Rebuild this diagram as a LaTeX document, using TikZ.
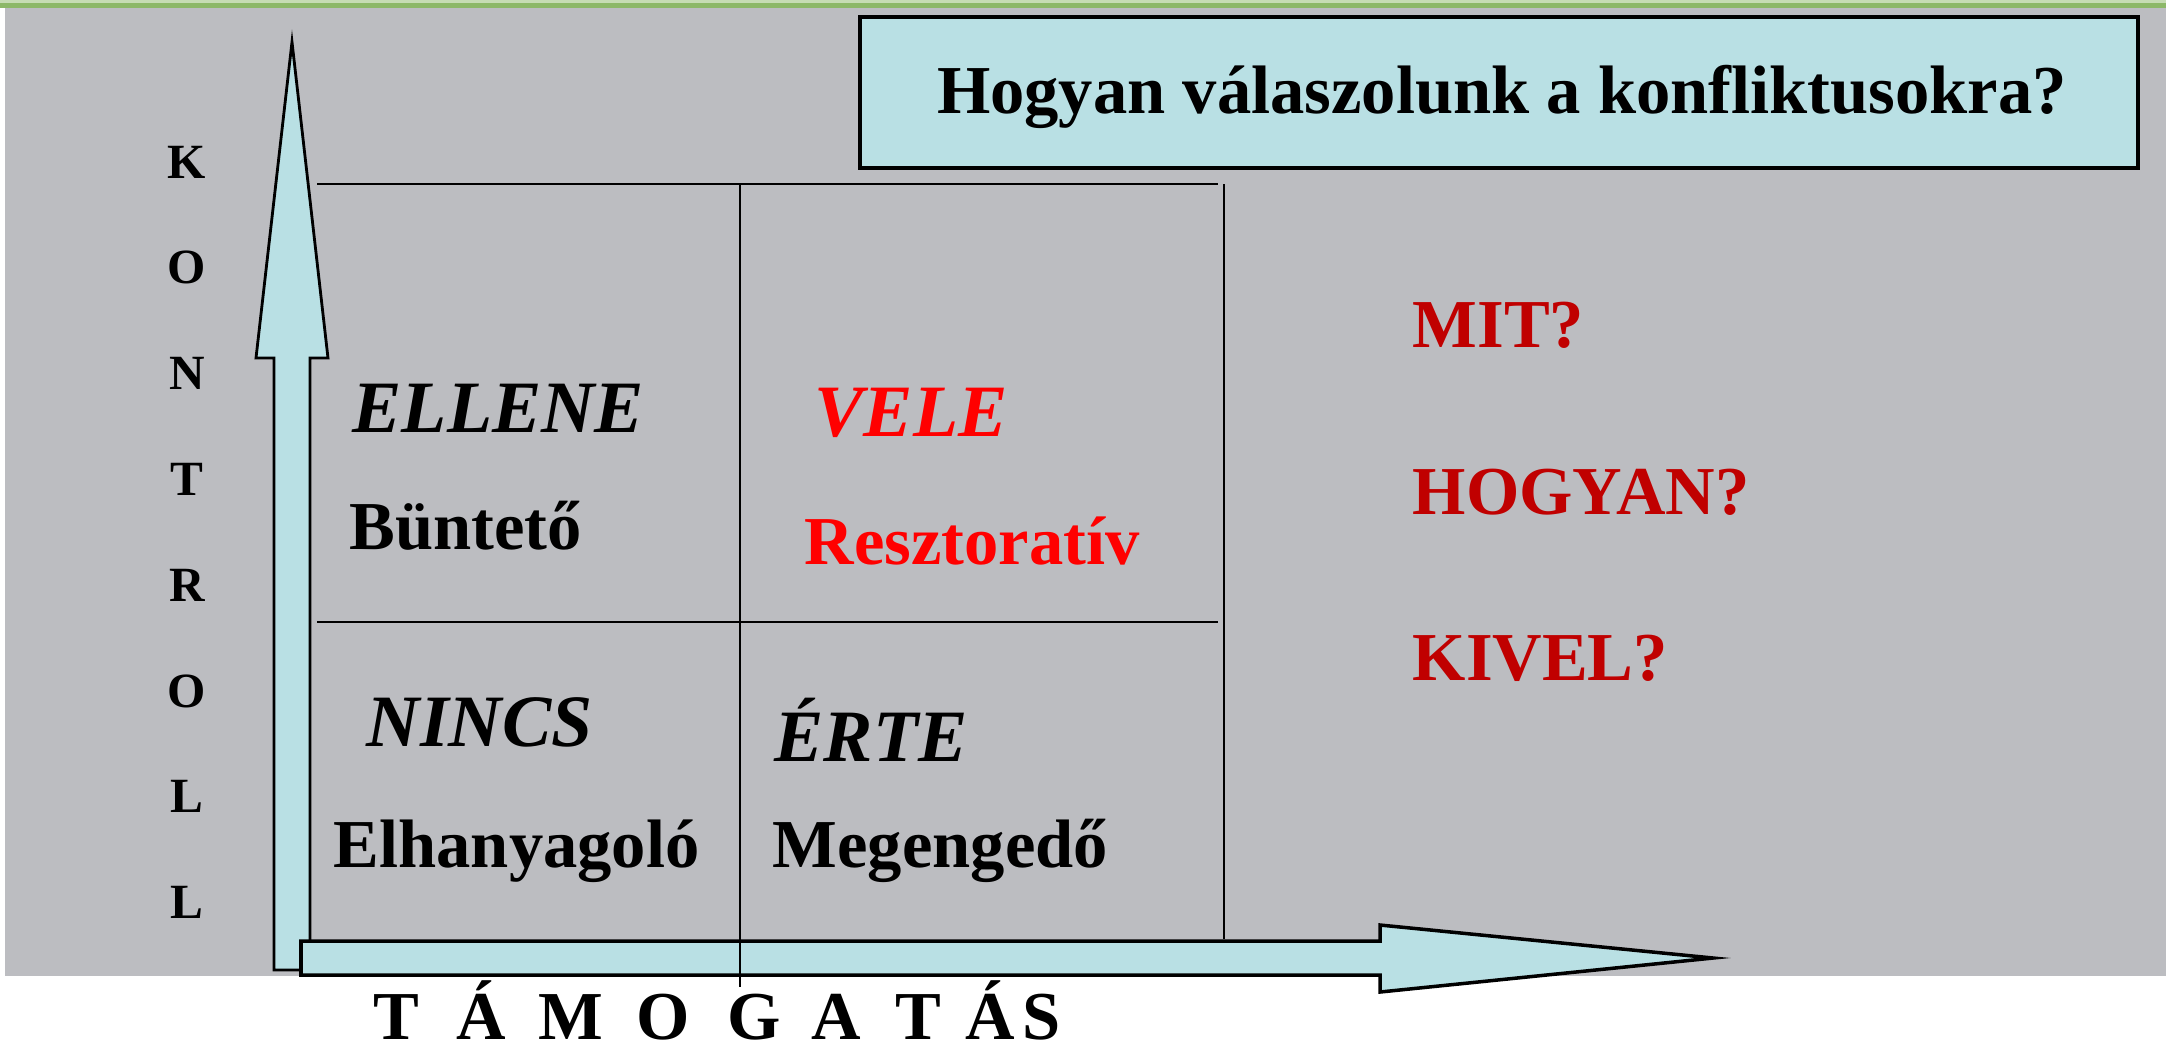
\documentclass[tikz,border=0pt]{standalone}
\usepackage{fontspec}
\setmainfont{Liberation Serif}
\usetikzlibrary{positioning}
\definecolor{slidegray}{RGB}{188, 189, 193}
\definecolor{slidegreen}{RGB}{140, 184, 104}
\definecolor{arrowcyan}{RGB}{185, 224, 228}
\definecolor{darkred}{RGB}{192, 0, 0}

\begin{document}
\begin{tikzpicture}[x=0.01cm, y=-0.01cm,
    bigtext/.style={inner sep=0pt, anchor=base west, font=\fontsize{19.5}{23}\selectfont\bfseries},
    bigital/.style={bigtext, font=\fontsize{21}{25}\selectfont\bfseries\itshape},
    axisletter/.style={inner sep=0pt, font=\fontsize{14}{16}\selectfont\bfseries},
    arrowbox/.style={fill=arrowcyan, draw=black, line width=0.8pt},
    gridline/.style={line width=0.7pt}]
    \useasboundingbox (0, 0) rectangle (2166, 1053);
    \fill[slidegreen!50] (0, 0) rectangle (2166, 3);
    \fill[slidegreen] (0, 3) rectangle (2166, 8);
    \fill[slidegray] (5, 8) rectangle (2166, 976);

    % title
    \draw[fill=arrowcyan, line width=0.9pt] (860, 17) rectangle (2138, 168);
    \node[inner sep=0pt, anchor=base, font=\fontsize{19.5}{23}\selectfont\bfseries] (title) at (1502, 113) {Hogyan válaszolunk a konfliktusokra?};

    % axes
    \draw[arrowbox] (274, 970) -- (274, 358) -- (256, 358) -- (292, 42) -- (328, 358) -- (310, 358) -- (310, 970) -- cycle;
    \draw[arrowbox, line width=1pt] (301, 941) -- (1380, 941) -- (1380, 925) -- (1713, 958) -- (1380, 992) -- (1380, 975) -- (301, 975) -- cycle;

    % grid
    \draw[gridline] (317, 184) -- (1218, 184);
    \draw[gridline] (317, 622) -- (1218, 622);
    \draw[gridline] (1224, 184) -- (1224, 939);
    \draw[gridline, line width=0.5pt] (740, 184) -- (740, 987);

    \foreach \letter [count=\i] in {K, O, N, T, R, O, L, L}
        \node[axisletter] (kon-\i) at (187, {162 + 105.8 * (\i - 1)}) {\letter};
    \foreach \letter/\xpos [count=\i] in {T/396, Á/481, M/571, O/663, G/754, A/836, T/918, Á/990, S/1042}
        \node[inner sep=0pt, anchor=base, font=\fontsize{19.5}{23}\selectfont\bfseries] (tam-\i) at (\xpos, 1039) {\letter};

    \node[bigital] (ellene) at (352, 432) {ELLENE};
    \node[bigtext] (bunteto) at (349, 549) {Büntető};
    \node[bigital, text=red] (vele) at (814, 436) {VELE};
    \node[bigtext, text=red] (reszt) at (804, 564) {Resztoratív};
    \node[bigital] (nincs) at (366, 746) {NINCS};
    \node[bigtext] (elhany) at (333, 867) {Elhanyagoló};
    \node[bigital] (erte) at (774, 761) {ÉRTE};
    \node[bigtext] (megeng) at (772, 867) {Megengedő};

    \node[bigtext, text=darkred] (mit) at (1412, 347) {MIT?};
    \node[bigtext, text=darkred] (hogyan) at (1412, 514) {HOGYAN?};
    \node[bigtext, text=darkred] (kivel) at (1412, 680) {KIVEL?};
\end{tikzpicture}
\end{document}
